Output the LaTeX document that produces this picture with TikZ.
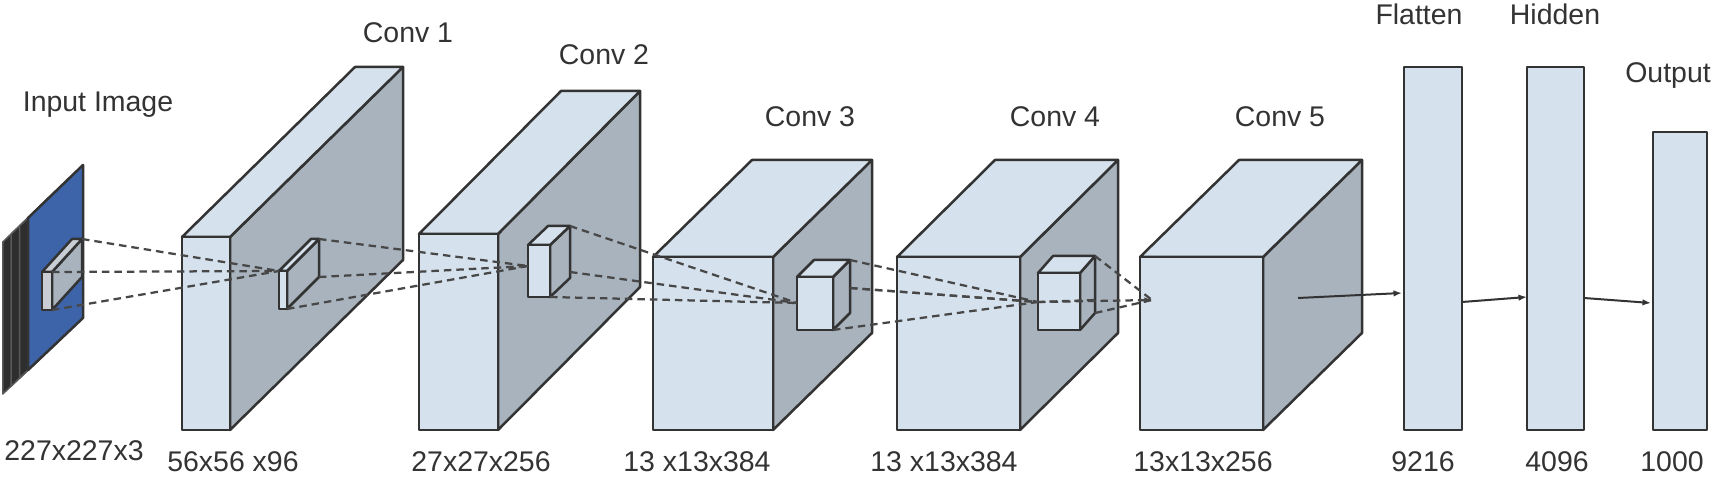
\documentclass[tikz,border=0pt]{standalone}
\usepackage{fontspec}
\setmainfont{Liberation Sans}
\usetikzlibrary{positioning}
\usetikzlibrary{arrows.meta}
\usetikzlibrary{calc}
\definecolor{facelight}{HTML}{D5E1ED}
\definecolor{faceside}{HTML}{A8B3BD}
\definecolor{inkgray}{HTML}{333333}
\definecolor{inputblue}{HTML}{3D64A8}
\definecolor{kernelgray}{HTML}{C8CED4}
\tikzset{
    box/.style = {draw=inkgray, line width=0.05cm, line join=round},
    frontface/.style = {box, fill=facelight},
    topface/.style = {box, fill=facelight},
    sideface/.style = {box, fill=faceside},
    layer/.style = {fill=inkgray!90!black, draw=gray!70!black, line width=0.03cm, line join=round},
    plane/.style = {fill=inputblue, draw=inkgray, line width=0.05cm, line join=round},
    ray/.style = {draw=black!72, line width=0.045cm, dash pattern=on 0.15cm off 0.1cm},
    flow/.style = {-{Latex[length=0.17cm,width=0.13cm]}, draw=inkgray, line width=0.04cm},
    lbl/.style = {text=inkgray, font=\fontsize{16.2}{19}\selectfont, inner sep=0pt, anchor=base}
}
% #1 extra style, #2 name, (#3,#4) front top-left, #5 width, #6 height, (#7,#8) depth
\newcommand{\convbox}[8][]{
  \begin{scope}[#1]
  \coordinate (#2-ftl) at (#3,#4);
  \coordinate (#2-ftr) at ({#3+#5},#4);
  \coordinate (#2-fbr) at ({#3+#5},{#4+#6});
  \coordinate (#2-btl) at ({#3+(#7)},{#4+(#8)});
  \coordinate (#2-btr) at ({#3+#5+(#7)},{#4+(#8)});
  \coordinate (#2-bbr) at ({#3+#5+(#7)},{#4+#6+(#8)});
  \draw[sideface] (#2-ftr) -- (#2-btr) -- (#2-bbr) -- (#2-fbr) -- cycle;
  \draw[topface] (#2-ftl) -- (#2-btl) -- (#2-btr) -- (#2-ftr) -- cycle;
  \draw[frontface] (#2-ftl) rectangle (#2-fbr);
  \end{scope}
}

\begin{document}
\begin{tikzpicture}[x=0.02cm, y=-0.02cm]
  \fill[white] (0,0) rectangle (1714,479);
  \useasboundingbox (0,0) rectangle (1714,479);

  % input image
  \foreach \k in {3,2,1}
    \draw[layer, shift={(-8.4*\k,8*\k)}] (28,218) -- (83,165) -- (83,318) -- (28,370) -- cycle;
  \draw[plane] (28,218) -- (83,165) -- (83,318) -- (28,370) -- cycle;
  \convbox[frontface/.append style={fill=kernelgray}, topface/.append style={fill=kernelgray}]{k0}{42}{272}{10}{38}{30}{-33}

  % conv layers and their windows
  \convbox{c1}{182}{237}{48}{193}{173}{-170}
  \convbox{w1}{279}{271}{8}{38}{32}{-32}
  \convbox{c2}{419}{234}{79}{196}{142}{-143}
  \convbox{w2}{528}{245}{22}{52}{20}{-19}
  \convbox{c3}{653}{257}{120}{173}{99}{-97}
  \convbox{w3}{797}{277}{36}{53}{17}{-17}
  \convbox{c4}{897}{257}{123}{173}{98}{-97}
  \convbox{w4}{1038}{273}{42}{57}{15}{-17}
  \convbox{c5}{1140}{257}{123}{173}{99}{-97}

  % dense layers
  \draw[frontface] (1404,67) rectangle (1462,430);
  \draw[frontface] (1527,67) rectangle (1584,430);
  \draw[frontface] (1653,132) rectangle (1707,430);

  % hit points
  \coordinate (h1) at (279,271);
  \coordinate (h2) at (528,266);
  \coordinate (h3) at (797,303);
  \coordinate (h4) at (1038,302);
  \coordinate (h5) at (1152,300);
  \coordinate (w2-mid) at (570,272);
  \coordinate (w3-mid) at (850,288);
  \coordinate (w4-mid) at (1095,300);

  % receptive fields
  \foreach \s in {k0-btr,k0-ftr,k0-fbr}
    \draw[ray] (\s) -- (h1);
  \foreach \s in {w1-btr,w1-bbr,w1-fbr}
    \draw[ray] (\s) -- (h2);
  \foreach \s in {w2-btr,w2-mid,w2-fbr}
    \draw[ray] (\s) -- (h3);
  \foreach \s in {w3-btr,w3-mid,w3-fbr}
    \draw[ray] (\s) -- (h4);
  \draw[ray] (w3-mid) -- (h4) -- (w4-mid);
  \draw[ray] (w4-btr) -- (h5);
  \draw[ray] (w4-bbr) -- (h5);
  \draw[ray, -{Latex[length=0.15cm,width=0.12cm]}] (h4) -- (h5);

  % fully connected
  \coordinate (c5-out) at (1298,298);
  \coordinate (fl-in) at (1402,293);
  \coordinate (fl-out) at (1462,302);
  \coordinate (hd-in) at (1527,297);
  \coordinate (hd-out) at (1584,298);
  \coordinate (op-in) at (1651,303);
  \draw[flow] (c5-out) -- (fl-in);
  \draw[flow] (fl-out) -- (hd-in);
  \draw[flow] (hd-out) -- (op-in);

  % titles
  \node[lbl] (tin) at (98,112) {Input Image};
  \node[lbl] (tc1) at (408,43) {Conv 1};
  \node[lbl] (tc2) at (604,65) {Conv 2};
  \node[lbl] (tc3) at (810,127) {Conv 3};
  \node[lbl] (tc4) at (1055,127) {Conv 4};
  \node[lbl] (tc5) at (1280,127) {Conv 5};
  \node[lbl] (tfl) at (1419,25) {Flatten};
  \node[lbl] (thd) at (1555,25) {Hidden};
  \node[lbl] (tout) at (1668,83) {Output};

  % sizes
  \node[lbl] (sin) at (74,460) {227x227x3};
  \node[lbl] (sc1) at (233,471) {56x56 x96};
  \node[lbl] (sc2) at (481,471) {27x27x256};
  \node[lbl] (sc3) at (697,471) {13 x13x384};
  \node[lbl] (sc4) at (944,471) {13 x13x384};
  \node[lbl] (sc5) at (1203,471) {13x13x256};
  \node[lbl] (sfl) at (1423,471) {9216};
  \node[lbl] (shd) at (1557,471) {4096};
  \node[lbl] (sout) at (1672,471) {1000};
\end{tikzpicture}
\end{document}
